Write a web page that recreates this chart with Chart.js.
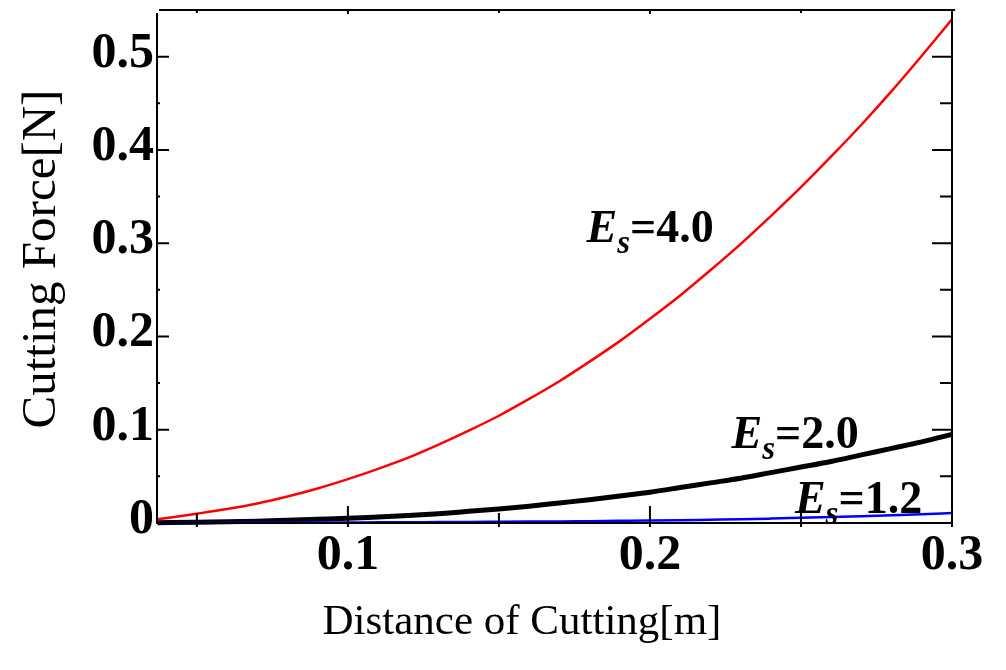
<!DOCTYPE html>
<html><head><meta charset="utf-8">
<script src="https://cdn.jsdelivr.net/npm/chart.js@4.4.0/dist/chart.umd.min.js"></script>
<style>html,body{margin:0;padding:0;background:#fff;}#wrap{width:1006px;height:670px;}</style>
</head><body><div id="wrap"><canvas id="c" width="1006" height="670"></canvas></div>
<script>
const distance = [0.037,0.05,0.06,0.07,0.08,0.09,0.10,0.11,0.12,0.13,0.14,0.15,0.16,0.17,0.18,0.19,0.20,0.21,0.22,0.23,0.24,0.25,0.26,0.27,0.28,0.29,0.30];
const forceEs40 = [0.004,0.010,0.015,0.021,0.0285,0.037,0.047,0.058,0.070,0.084,0.099,0.115,0.133,0.152,0.173,0.195,0.219,0.244,0.271,0.299,0.329,0.360,0.393,0.427,0.463,0.501,0.540];
const forceEs20 = [0.0003,0.0008,0.0013,0.002,0.003,0.004,0.005,0.0065,0.008,0.010,0.0125,0.015,0.018,0.0215,0.025,0.029,0.033,0.038,0.043,0.048,0.054,0.060,0.066,0.073,0.080,0.087,0.095];
const forceEs12 = [0,0.0001,0.0002,0.0003,0.0004,0.0005,0.0006,0.0007,0.0008,0.001,0.0011,0.0013,0.0015,0.0017,0.002,0.0023,0.0026,0.003,0.0035,0.004,0.0047,0.0055,0.0064,0.0073,0.0083,0.0094,0.0107];
const xTickValues = [0.1,0.2,0.3];
const xMinorTicks = [0.05,0.15,0.25];
const yTickValues = [0,0.1,0.2,0.3,0.4,0.5];
const yMinorTicks = [0.05,0.15,0.25,0.35,0.45];
const curveLabels = ['=4.0','=2.0','=1.2'];
const curveLabelX = [0.179,0.227,0.248];
const curveLabelY = [0.301,0.080,0.0104];
const xTitle = 'Distance of Cutting[m]';
const yTitle = 'Cutting Force[N]';

const SERIF = "'Liberation Serif','Times New Roman',serif";

const framePlugin = {
  id: 'frame',
  afterDraw(chart) {
    const {ctx, chartArea: a, scales: {x, y}} = chart;
    ctx.save();
    ctx.strokeStyle = '#000';
    ctx.lineWidth = 2;
    ctx.beginPath();
    ctx.moveTo(a.left, a.top + 3); ctx.lineTo(a.left, a.bottom);
    ctx.lineTo(a.right, a.bottom); ctx.lineTo(a.right, a.top + 3);
    ctx.moveTo(a.left + 2, a.top); ctx.lineTo(a.right + 3, a.top);
    ctx.stroke();
    ctx.beginPath();
    yTickValues.forEach(v => { const p = y.getPixelForValue(v);
      ctx.moveTo(a.left, p); ctx.lineTo(a.left + 12, p);
      ctx.moveTo(a.right, p); ctx.lineTo(a.right - 20, p); });
    yMinorTicks.forEach(v => { const p = y.getPixelForValue(v);
      ctx.moveTo(a.left, p); ctx.lineTo(a.left + 3, p);
      ctx.moveTo(a.right, p); ctx.lineTo(a.right - 12, p); });
    xTickValues.forEach(v => { const p = x.getPixelForValue(v);
      ctx.moveTo(p, a.bottom + 4); ctx.lineTo(p, a.bottom - 17);
      ctx.moveTo(p, a.top); ctx.lineTo(p, a.top + 4); });
    xMinorTicks.forEach(v => { const p = x.getPixelForValue(v);
      ctx.moveTo(p, a.bottom + 4); ctx.lineTo(p, a.bottom - 10);
      ctx.moveTo(p, a.top); ctx.lineTo(p, a.top + 3); });
    ctx.stroke();
    // axis titles
    ctx.fillStyle = '#000';
    ctx.font = "49px " + SERIF;
    ctx.textAlign = 'center';
    ctx.textBaseline = 'alphabetic';
    ctx.save();
    ctx.translate(55, 259);
    ctx.rotate(-Math.PI / 2);
    ctx.fillText(yTitle, 0, 0);
    ctx.restore();
    ctx.font = "43px " + SERIF;
    ctx.fillText(xTitle, 522, 634);
    ctx.restore();
  },
  afterDatasetsDraw(chart) {
    const {ctx, scales: {x, y}} = chart;
    ctx.save();
    ctx.fillStyle = '#000';
    ctx.textAlign = 'left';
    ctx.textBaseline = 'alphabetic';
    curveLabels.forEach((t, i) => {
      let px = x.getPixelForValue(curveLabelX[i]);
      const py = y.getPixelForValue(curveLabelY[i]);
      ctx.font = "italic bold 46px " + SERIF;
      ctx.fillText('E', px, py);
      px += ctx.measureText('E').width;
      ctx.font = "italic bold 33px " + SERIF;
      ctx.fillText('s', px, py + 11);
      px += ctx.measureText('s').width;
      ctx.font = "bold 46px " + SERIF;
      ctx.fillText(t, px, py);
    });
    ctx.restore();
  }
};

const tickFont = {family: SERIF, size: 50, weight: 'bold'};

new Chart(document.getElementById('c'), {
  type: 'line',
  data: {
    labels: distance,
    datasets: [
      {label: 'Es=4.0', data: distance.map((d, i) => ({x: d, y: forceEs40[i]})), borderColor: '#ff0000', borderWidth: 2.5},
      {label: 'Es=1.2', data: distance.map((d, i) => ({x: d, y: forceEs12[i]})), borderColor: '#0000ff', borderWidth: 2.5},
      {label: 'Es=2.0', data: distance.map((d, i) => ({x: d, y: forceEs20[i]})), borderColor: '#000000', borderWidth: 5}
    ]
  },
  options: {
    responsive: false,
    devicePixelRatio: 1,
    animation: false,
    layout: {padding: {top: 10, right: 54, left: 0, bottom: 0}},
    elements: {point: {radius: 0}, line: {cubicInterpolationMode: 'monotone', fill: false}},
    datasets: {line: {clip: false}},
    plugins: {legend: {display: false}, tooltip: {enabled: false}},
    scales: {
      x: {
        type: 'linear', min: 0.0368, max: 0.3,
        afterBuildTicks: s => { s.ticks = xTickValues.map(v => ({value: v})); },
        afterFit: s => { s.height = 147; s.paddingLeft = 0; s.paddingRight = 0; },
        ticks: {font: tickFont, color: '#000', padding: 3, maxRotation: 0, autoSkip: false,
          callback: v => v.toFixed(1)},
        grid: {display: false, drawTicks: false},
        border: {display: false}
      },
      y: {
        type: 'linear', min: 0, max: 0.55,
        afterBuildTicks: s => { s.ticks = yTickValues.map(v => ({value: v})); },
        afterFit: s => { s.width = 157; s.paddingTop = 0; s.paddingBottom = 0; },
        ticks: {font: tickFont, color: '#000', padding: 3, labelOffset: -3, autoSkip: false,
          callback: v => v === 0 ? '0' : v.toFixed(1)},
        grid: {display: false, drawTicks: false},
        border: {display: false}
      }
    }
  },
  plugins: [framePlugin]
});
</script>
</body></html>
